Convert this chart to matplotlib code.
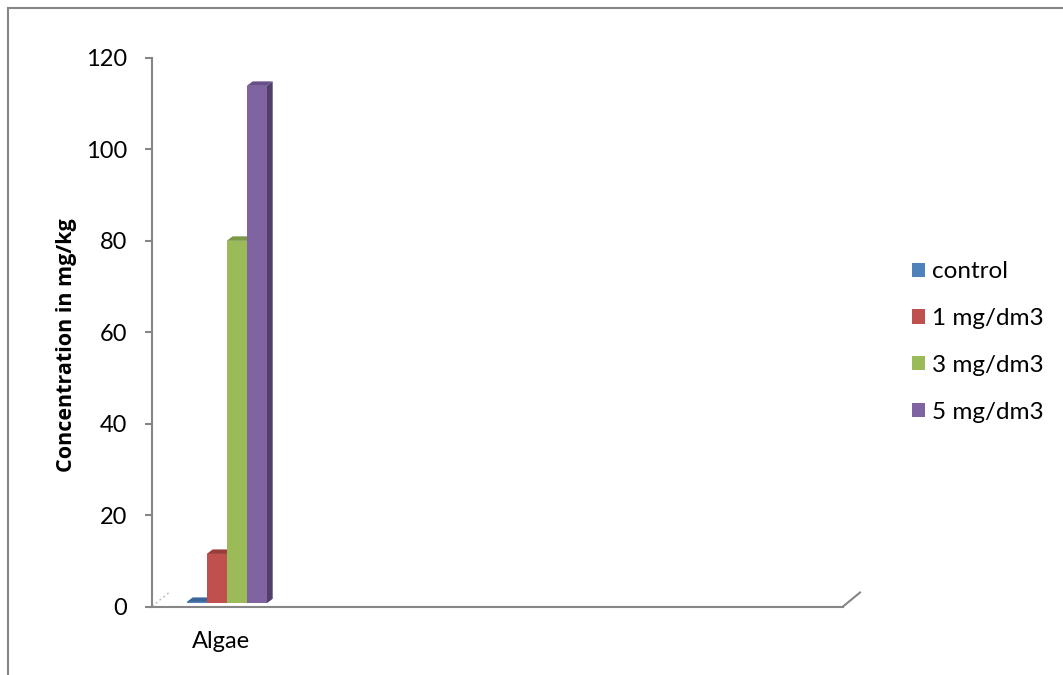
import matplotlib
matplotlib.use("Agg")
import matplotlib.pyplot as plt
from matplotlib.patches import Polygon, Patch
from matplotlib.lines import Line2D
from matplotlib.transforms import ScaledTranslation

# Data
categories = ["Algae"]
series_names = ["control", "1 mg/dm3", "3 mg/dm3", "5 mg/dm3"]
series_values = [[0.3], [10.8], [79.3], [113.2]]
yticks = [0, 20, 40, 60, 80, 100, 120]

front_colors = ["#4F81BD", "#C0504D", "#9BBB59", "#8064A2"]
top_colors = ["#3A659A", "#993C3A", "#7C9746", "#67508A"]
side_colors = ["#2F5482", "#7E302E", "#627936", "#503F68"]

plt.rcParams["font.family"] = ["Lato", "DejaVu Sans"]

W, H = 1063, 675
fig = plt.figure(figsize=(W / 100, H / 100), dpi=100)
ax_l, ax_r, ax_b, ax_t = 152, 843, 606.5, 58
ax = fig.add_axes([ax_l / W, 1 - ax_b / H, (ax_r - ax_l) / W, (ax_b - ax_t) / H])

bar_w = 0.2
px_per_x = bar_w / 20.0            # data units per pixel horizontally
left_px_to_group = 74.7
x_min = -left_px_to_group * px_per_x
x_max = x_min + (ax_r - ax_l) * px_per_x
ax.set_xlim(x_min, x_max)
ax.set_ylim(0, 120)
px_per_y = 120 / (ax_b - ax_t)

depth_dx = 6 * px_per_x
depth_dy = 4.5 * px_per_y
base = 3.2 * px_per_y

n = len(series_names)
for ci, cat in enumerate(categories):
    for si in range(n):
        v = series_values[si][ci]
        x0 = ci - n * bar_w / 2 + si * bar_w
        x1 = x0 + bar_w
        ax.bar(x0, v, width=bar_w, bottom=base, align="edge",
               color=front_colors[si], edgecolor="none", zorder=3 + si)
        top = base + v
        # top face
        ax.add_patch(Polygon([(x0, top), (x1, top), (x1 + depth_dx, top + depth_dy),
                              (x0 + depth_dx, top + depth_dy)], closed=True,
                             facecolor=top_colors[si], edgecolor="none", zorder=3 + si))
        # right side face
        ax.add_patch(Polygon([(x1, base), (x1 + depth_dx, base + depth_dy),
                              (x1 + depth_dx, top + depth_dy), (x1, top)], closed=True,
                             facecolor=side_colors[si], edgecolor="none", zorder=2 + si))

# axes styling
axis_gray = "#868686"
for s in ["top", "right"]:
    ax.spines[s].set_visible(False)
ax.spines["left"].set_color(axis_gray)
ax.spines["bottom"].set_color(axis_gray)
ax.spines["left"].set_linewidth(1.5)
ax.spines["bottom"].set_linewidth(1.5)
ax.set_yticks(yticks)
ax.set_yticklabels([str(t) for t in yticks], fontsize=17)
ax.tick_params(axis="y", direction="out", length=5, width=1.5, color=axis_gray, pad=13)
ax.set_xticks(range(len(categories)))
ax.set_xticklabels(categories, fontsize=17)
ax.tick_params(axis="x", length=0, pad=18)
for lbl in ax.get_xticklabels():
    lbl.set_transform(lbl.get_transform() + ScaledTranslation(-0.057, 0, fig.dpi_scale_trans))
ax.set_ylabel("Concentration in mg/kg", fontsize=15.5, fontweight="bold",
              family=["Open Sans", "DejaVu Sans"])
ax.yaxis.set_label_coords((77 - ax_l) / (ax_r - ax_l), (ax_b - 345) / (ax_b - ax_t))

# floor edges
fdx = 17 / (ax_r - ax_l)
fdy = 14 / (ax_b - ax_t)
ax.add_line(Line2D([1, 1 + fdx], [0, fdy], transform=ax.transAxes, color=axis_gray,
                   lw=1.5, clip_on=False))
ax.add_line(Line2D([0, fdx], [0, fdy], transform=ax.transAxes, color="#BBBBBB",
                   lw=1, ls=(0, (1.5, 2)), clip_on=False))

# legend
handles = [Patch(facecolor=c, edgecolor="none") for c in front_colors]
fig.legend(handles, series_names, loc="center left", bbox_to_anchor=(912 / W, 1 - 342 / H),
           frameon=False, fontsize=17.5, handlelength=0.53, handleheight=0.53,
           handletextpad=0.29, labelspacing=1.06, borderpad=0, borderaxespad=0)

# outer frame
fig.add_artist(Line2D([7.5 / W, 7.5 / W], [0, 1 - 7.5 / H], transform=fig.transFigure,
                      color=axis_gray, lw=1.5))
fig.add_artist(Line2D([7.5 / W, 1], [1 - 7.5 / H, 1 - 7.5 / H], transform=fig.transFigure,
                      color=axis_gray, lw=1.5))

fig.savefig("out.png", dpi=100, facecolor="white")
